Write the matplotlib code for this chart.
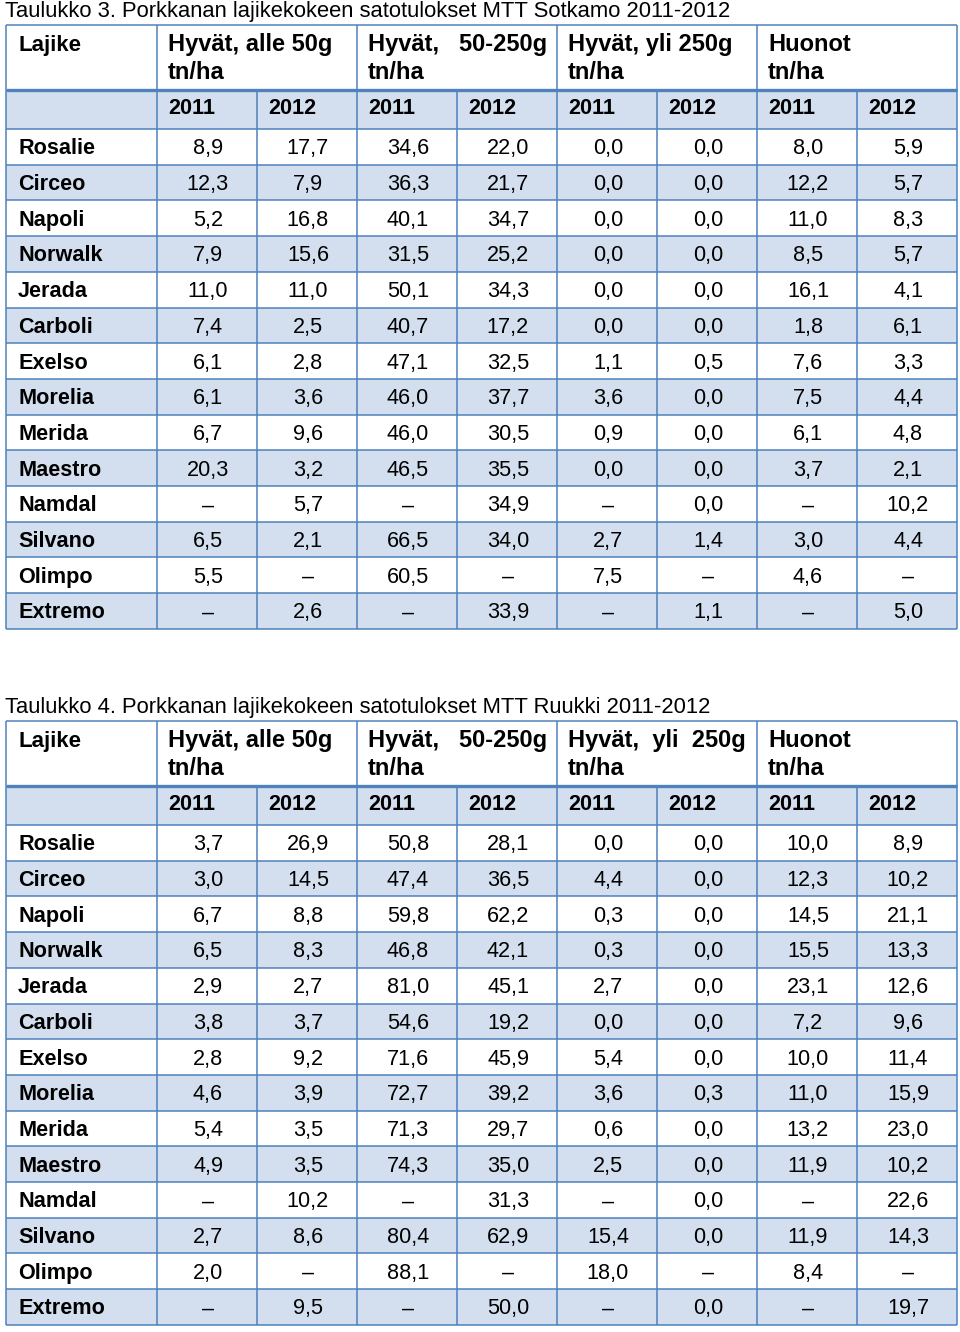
import matplotlib
matplotlib.use("Agg")
import matplotlib.pyplot as plt
from matplotlib.patches import Rectangle

# ---------------- data ----------------
varieties = ["Rosalie", "Circeo", "Napoli", "Norwalk", "Jerada", "Carboli", "Exelso",
             "Morelia", "Merida", "Maestro", "Namdal", "Silvano", "Olimpo", "Extremo"]

groups_t3 = ["Hyvät, alle 50g", "Hyvät,   50-250g", "Hyvät, yli 250g", "Huonot"]
groups_t4 = ["Hyvät, alle 50g", "Hyvät,   50-250g", "Hyvät,  yli  250g", "Huonot"]
unit = "tn/ha"
years = ["2011", "2012"]

title_t3 = "Taulukko 3. Porkkanan lajikekokeen satotulokset MTT Sotkamo 2011-2012"
title_t4 = "Taulukko 4. Porkkanan lajikekokeen satotulokset MTT Ruukki 2011-2012"

# columns: alle50 2011, 2012 | 50-250 2011, 2012 | yli250 2011, 2012 | huonot 2011, 2012
values_t3 = [
    ["8,9", "17,7", "34,6", "22,0", "0,0", "0,0", "8,0", "5,9"],
    ["12,3", "7,9", "36,3", "21,7", "0,0", "0,0", "12,2", "5,7"],
    ["5,2", "16,8", "40,1", "34,7", "0,0", "0,0", "11,0", "8,3"],
    ["7,9", "15,6", "31,5", "25,2", "0,0", "0,0", "8,5", "5,7"],
    ["11,0", "11,0", "50,1", "34,3", "0,0", "0,0", "16,1", "4,1"],
    ["7,4", "2,5", "40,7", "17,2", "0,0", "0,0", "1,8", "6,1"],
    ["6,1", "2,8", "47,1", "32,5", "1,1", "0,5", "7,6", "3,3"],
    ["6,1", "3,6", "46,0", "37,7", "3,6", "0,0", "7,5", "4,4"],
    ["6,7", "9,6", "46,0", "30,5", "0,9", "0,0", "6,1", "4,8"],
    ["20,3", "3,2", "46,5", "35,5", "0,0", "0,0", "3,7", "2,1"],
    ["–", "5,7", "–", "34,9", "–", "0,0", "–", "10,2"],
    ["6,5", "2,1", "66,5", "34,0", "2,7", "1,4", "3,0", "4,4"],
    ["5,5", "–", "60,5", "–", "7,5", "–", "4,6", "–"],
    ["–", "2,6", "–", "33,9", "–", "1,1", "–", "5,0"],
]

values_t4 = [
    ["3,7", "26,9", "50,8", "28,1", "0,0", "0,0", "10,0", "8,9"],
    ["3,0", "14,5", "47,4", "36,5", "4,4", "0,0", "12,3", "10,2"],
    ["6,7", "8,8", "59,8", "62,2", "0,3", "0,0", "14,5", "21,1"],
    ["6,5", "8,3", "46,8", "42,1", "0,3", "0,0", "15,5", "13,3"],
    ["2,9", "2,7", "81,0", "45,1", "2,7", "0,0", "23,1", "12,6"],
    ["3,8", "3,7", "54,6", "19,2", "0,0", "0,0", "7,2", "9,6"],
    ["2,8", "9,2", "71,6", "45,9", "5,4", "0,0", "10,0", "11,4"],
    ["4,6", "3,9", "72,7", "39,2", "3,6", "0,3", "11,0", "15,9"],
    ["5,4", "3,5", "71,3", "29,7", "0,6", "0,0", "13,2", "23,0"],
    ["4,9", "3,5", "74,3", "35,0", "2,5", "0,0", "11,9", "10,2"],
    ["–", "10,2", "–", "31,3", "–", "0,0", "–", "22,6"],
    ["2,7", "8,6", "80,4", "62,9", "15,4", "0,0", "11,9", "14,3"],
    ["2,0", "–", "88,1", "–", "18,0", "–", "8,4", "–"],
    ["–", "9,5", "–", "50,0", "–", "0,0", "–", "19,7"],
]

# ---------------- style / layout ----------------
W, H = 960, 1332
LINE = "#4F81BD"
FILL = "#D3DFEE"
FONT = "Liberation Sans"
FS = 15.6     # body text
FSG = 17.0    # group header text
FSL = 16.0    # "Lajike"
TFS = 15.8    # table caption

col_edges = [6, 157, 257, 357, 457, 557, 657, 757, 857, 957]

fig = plt.figure(figsize=(W / 100, H / 100), dpi=100)
ax = fig.add_axes([0, 0, 1, 1])
ax.set_xlim(0, W)
ax.set_ylim(H, 0)
ax.axis("off")


def draw_table(y0, title, groups, values):
    top = y0
    hdr_bot = y0 + 65
    yr_bot = y0 + 104
    rh = 35.7
    n = len(varieties)
    bottom = yr_bot + n * rh
    L, R = col_edges[0], col_edges[-1]

    ax.text(L - 1, top - 8, title, fontsize=TFS, family=FONT, va="baseline", ha="left")

    # fills
    ax.add_patch(Rectangle((L, hdr_bot), R - L, yr_bot - hdr_bot, facecolor=FILL, edgecolor="none"))
    for i in range(n):
        if i % 2 == 1:
            ax.add_patch(Rectangle((L, yr_bot + i * rh), R - L, rh, facecolor=FILL, edgecolor="none"))

    lw = 1.1
    # horizontal lines
    ax.plot([L, R], [top, top], color=LINE, lw=lw, solid_capstyle="butt")
    ax.plot([L, R], [hdr_bot, hdr_bot], color=LINE, lw=2.4, solid_capstyle="butt")
    ax.plot([L, R], [yr_bot, yr_bot], color=LINE, lw=lw, solid_capstyle="butt")
    for i in range(1, n + 1):
        yy = yr_bot + i * rh
        ax.plot([L, R], [yy, yy], color=LINE, lw=lw, solid_capstyle="butt")
    # vertical lines
    for j, x in enumerate(col_edges):
        if j in (0, 1, 3, 5, 7, 9):
            ax.plot([x, x], [top, bottom], color=LINE, lw=lw, solid_capstyle="butt")
        else:
            ax.plot([x, x], [hdr_bot, bottom], color=LINE, lw=lw, solid_capstyle="butt")

    pad = 11
    # header
    ax.text(L + pad + 1, top + 25.5, "Lajike", fontsize=FSL, family=FONT, weight="bold",
            va="baseline", ha="left")
    for g, name in enumerate(groups):
        x = col_edges[1 + 2 * g] + pad
        ax.text(x, top + 26, name, fontsize=FSG, family=FONT, weight="bold", va="baseline", ha="left")
        ax.text(x, top + 54, unit, fontsize=FSG, family=FONT, weight="bold", va="baseline", ha="left")
    for c in range(8):
        ax.text(col_edges[1 + c] + pad, hdr_bot + 24, years[c % 2], fontsize=FS, family=FONT,
                weight="bold", va="baseline", ha="left")
    # body
    for i, v in enumerate(varieties):
        yc = yr_bot + (i + 0.5) * rh
        ax.text(L + pad + 1, yc + 7.5, v, fontsize=FS, family=FONT, weight="bold", va="baseline", ha="left")
        for c, s in enumerate(values[i]):
            xc = (col_edges[1 + c] + col_edges[2 + c]) / 2 + 1
            ax.text(xc, yc + 7.5, s, fontsize=FS, family=FONT, va="baseline", ha="center")


draw_table(25, title_t3, groups_t3, values_t3)
draw_table(721, title_t4, groups_t4, values_t4)

fig.savefig("out.png", dpi=100, facecolor="white")
